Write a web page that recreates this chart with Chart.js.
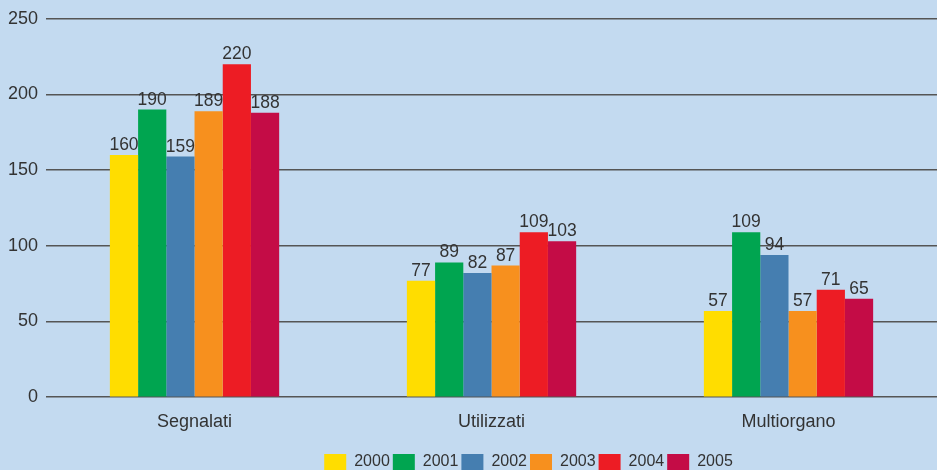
<!DOCTYPE html>
<html>
<head>
<meta charset="utf-8">
<script src="https://cdn.jsdelivr.net/npm/chart.js@4"></script>
<style>
  html, body { margin: 0; padding: 0; background: #c3daf0; }
  #wrap { width: 937px; height: 470px; }
</style>
</head>
<body>
<div id="wrap"><canvas id="chart"></canvas></div>
<script>
const categories = ['Segnalati', 'Utilizzati', 'Multiorgano'];
const years = ['2000', '2001', '2002', '2003', '2004', '2005'];
const values2000 = [160, 77, 57];
const values2001 = [190, 89, 109];
const values2002 = [159, 82, 94];
const values2003 = [189, 87, 57];
const values2004 = [220, 109, 71];
const values2005 = [188, 103, 65];
const yearColors = ['#ffdd00', '#00a550', '#457eb0', '#f7901e', '#ed1c24', '#c40c46'];

const series = [values2000, values2001, values2002, values2003, values2004, values2005];
const FONT = '"Liberation Sans", Arial, sans-serif';

// write the value over each bar
const barValues = {
    id: 'barValues',
    afterDatasetsDraw(chart) {
        const ctx = chart.ctx;
        ctx.save();
        ctx.font = '17.5px ' + FONT;
        ctx.fillStyle = '#333';
        ctx.textAlign = 'center';
        ctx.textBaseline = 'alphabetic';
        chart.data.datasets.forEach((ds, i) => {
            chart.getDatasetMeta(i).data.forEach((bar, j) => {
                ctx.fillText(ds.data[j], bar.x, bar.y - 5);
            });
        });
        ctx.restore();
    }
};

// the legend in the original sits a bit right of centre
const legendShift = {
    id: 'legendShift',
    afterLayout(chart) {
        chart.legend.left += 60;
        chart.legend.right += 60;
    }
};

new Chart(document.getElementById('chart').getContext('2d'), {
    type: 'bar',
    data: {
        labels: categories,
        datasets: years.map((y, i) => ({
            label: y,
            data: series[i],
            backgroundColor: yearColors[i],
            borderWidth: 0,
            barPercentage: 1,
            categoryPercentage: 0.57
        }))
    },
    options: {
        responsive: true,
        maintainAspectRatio: false,
        animation: false,
        layout: { padding: { top: 6, right: 0, bottom: -10, left: 0 } },
        scales: {
            x: {
                grid: { display: false },
                border: { display: false },
                ticks: {
                    color: '#333',
                    padding: 6,
                    font: { family: FONT, size: 18 }
                }
            },
            y: {
                min: 0,
                max: 250,
                border: { display: false },
                grid: { color: '#555', lineWidth: 1.5, drawTicks: false },
                ticks: {
                    stepSize: 50,
                    color: '#333',
                    padding: 8,
                    font: { family: FONT, size: 18 }
                }
            }
        },
        plugins: {
            legend: {
                position: 'bottom',
                title: { display: true, text: ' ', font: { size: 1 }, padding: { top: 11, bottom: 0 } },
                labels: {
                    boxWidth: 22,
                    boxHeight: 16,
                    padding: 3,
                    color: '#333',
                    font: { family: FONT, size: 16 }
                }
            },
            tooltip: { enabled: false }
        }
    },
    plugins: [barValues, legendShift]
});
</script>
</body>
</html>
